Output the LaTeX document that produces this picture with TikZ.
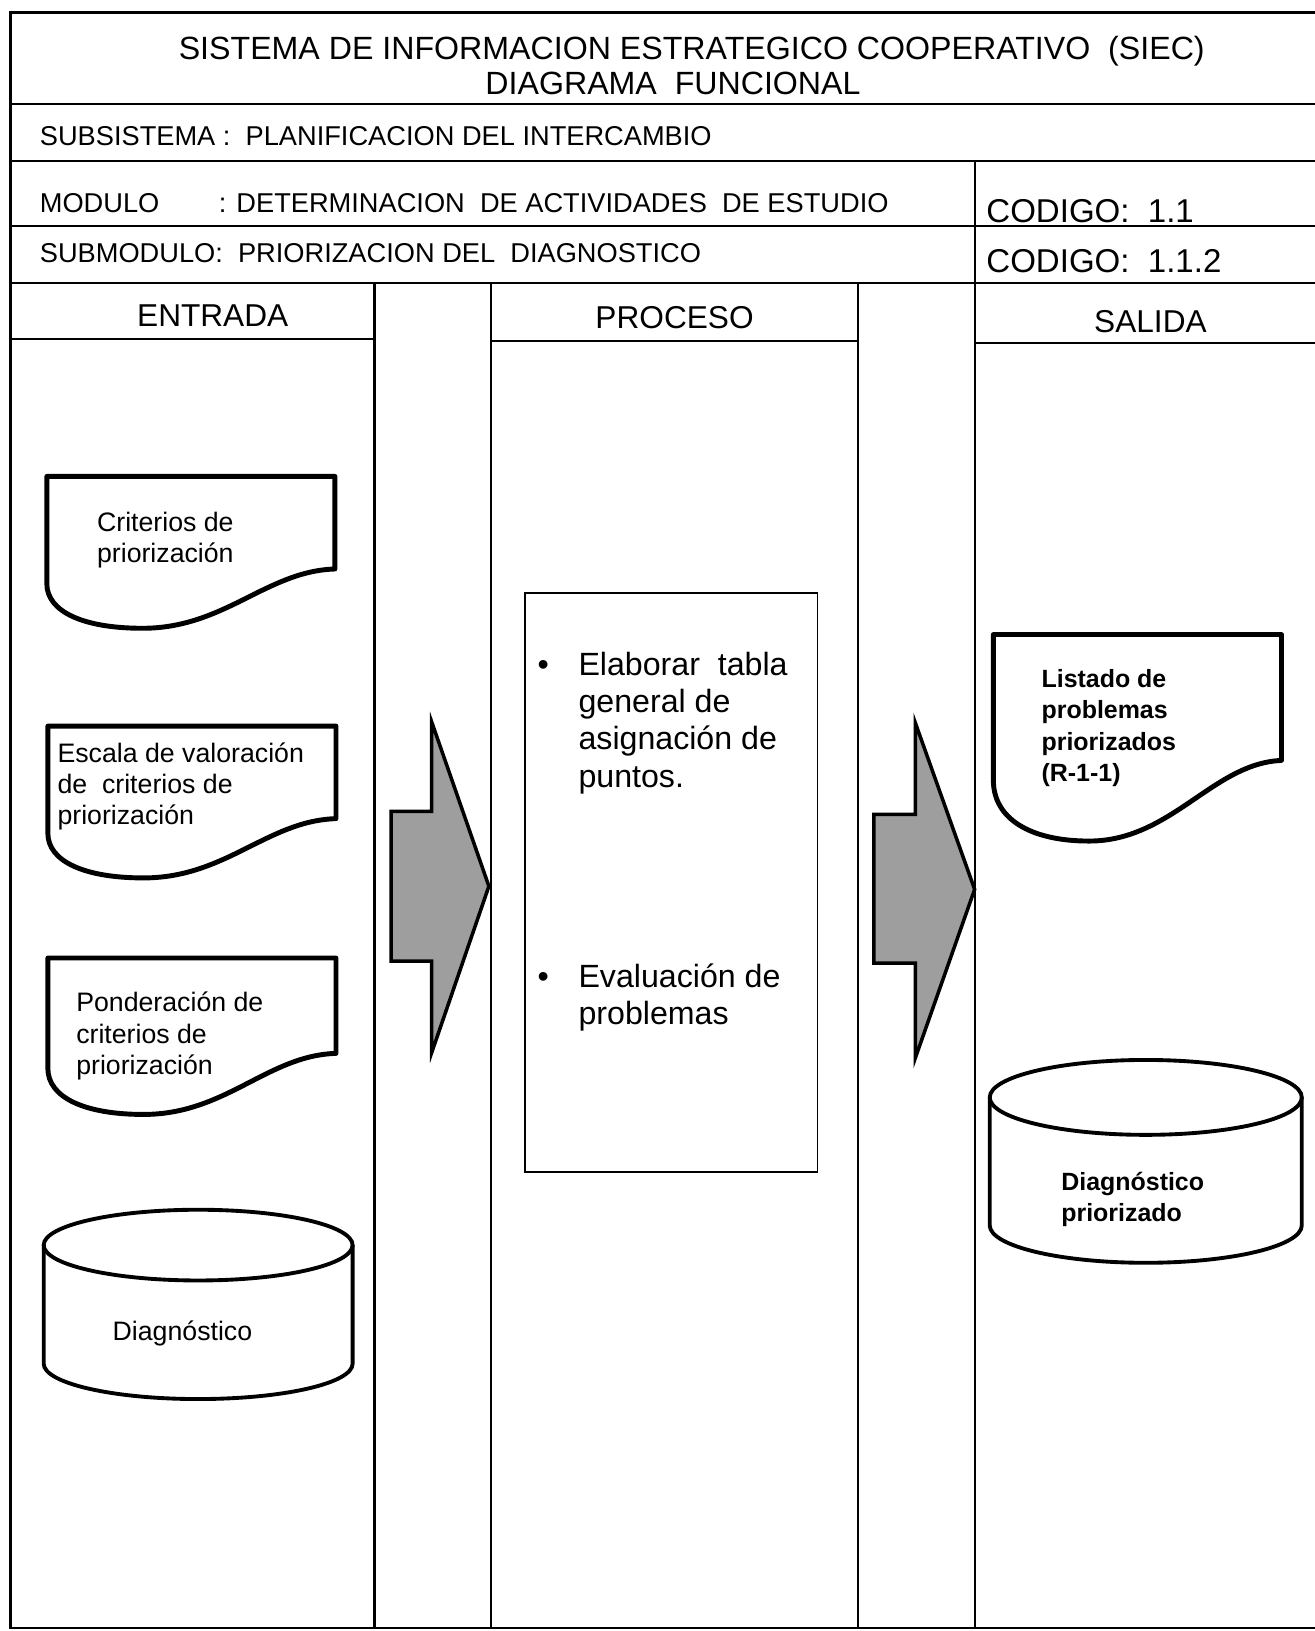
\documentclass[tikz,border=0pt]{standalone}
\usepackage{fontspec}
\setmainfont{Liberation Sans}
\usetikzlibrary{calc}

% hoja de documento: esquina superior izquierda, escala vertical
\newcommand{\hoja}[3]{%
  \draw[docline,shift={(#1,#2)},yscale=#3] (0,0) -- (277,0) -- (277,89)
    .. controls (211,91) and (171,146) .. (92,146)
    .. controls (35,146) and (0,130) .. (0,103) -- cycle;}
% cilindro: centro x, y arriba, y abajo, radio x, radio y
\newcommand{\tambor}[5]{%
  \draw[cilindro] (#1-#4,#2) -- (#1-#4,#3)
    arc[start angle=180,end angle=0,x radius=#4,y radius=#5] -- (#1+#4,#2);
  \draw[cilindro] (#1,#2) ellipse[x radius=#4,y radius=#5];}

\begin{document}
\begin{tikzpicture}[x=0.5921pt,y=-0.5921pt,
  every node/.style={inner sep=0pt},
  marco/.style={line width=1.3pt},
  docline/.style={line width=2.8pt,line join=round},
  cilindro/.style={line width=2.2pt},
  flecha/.style={draw=black,line width=2pt,fill=black!38},
  caja/.style={line width=1pt},
  tit/.style={font=\fontsize{18.3}{22}\selectfont},
  fila/.style={font=\fontsize{15.5}{18}\selectfont},
  cod/.style={font=\fontsize{18.8}{22}\selectfont},
  cab/.style={font=\fontsize{18}{22}\selectfont},
  txt/.style={font=\fontsize{15.2}{17.8}\selectfont,align=left},
  txtb/.style={font=\bfseries\fontsize{14.2}{17.8}\selectfont,align=left},
  proc/.style={font=\fontsize{18.3}{21.3}\selectfont}]
\useasboundingbox (0,0) rectangle (1264,1568);

% marco y filas
\draw[marco] (1264,12) -- (10,12) -- (10,1565) -- (1264,1565);
\foreach \y in {100,155,217,272} \draw[marco] (10,\y) -- (1264,\y);
\draw[marco] (937,155) -- (937,1565);
\foreach \x in {360,472,825} \draw[marco] (\x,272) -- (\x,1565);
\draw[marco] (10,326) -- (360,326);
\draw[marco] (472,328) -- (825,328);
\draw[marco] (937,330) -- (1264,330);

% encabezado
\node[tit,anchor=base] (tit1) at (665,57) {SISTEMA DE INFORMACION ESTRATEGICO COOPERATIVO\ \ (SIEC)};
\node[tit,anchor=base] (tit2) at (647,91) {DIAGRAMA\ \ FUNCIONAL};
\node[fila,anchor=base west] (subsis) at (38,140) {SUBSISTEMA\ : \ PLANIFICACION DEL INTERCAMBIO};
\node[fila,anchor=base west] (mod) at (38,204) {MODULO};
\node[fila,anchor=base west] (modtxt) at (210,204) {: DETERMINACION\ \ DE ACTIVIDADES\ \ DE ESTUDIO};
\node[fila,anchor=base west] (submod) at (38,252) {SUBMODULO:\ \ PRIORIZACION DEL\ \ DIAGNOSTICO};
\node[cod,anchor=base west] (cod1) at (948,214) {CODIGO:\ \ 1.1};
\node[cod,anchor=base west] (cod2) at (948,262) {CODIGO:\ \ 1.1.2};
\node[cab,anchor=base] (entrada) at (204.5,314) {ENTRADA};
\node[cab,anchor=base] (proceso) at (648.5,316) {PROCESO};
\node[cab,anchor=base] (salida) at (1106,320) {SALIDA};

% entrada
\hoja{45}{458}{1}
\hoja{46}{698}{1}
\hoja{46}{921}{1.03}
\tambor{190.5}{1197}{1311}{148.5}{34}
\node[txt,anchor=west] (crit) at (93,519) {Criterios de\\priorización};
\node[txt,anchor=west] (escala) at (55,756) {Escala de valoración\\de\ \ criterios de\\priorización};
\node[txt,anchor=west] (pond) at (73,996) {Ponderación de\\criterios de\\priorización};
\node[txt,anchor=base west] (diag) at (108,1289) {Diagnóstico};

% flechas
\draw[flecha] (376,780) -- (415,780) -- (415,694) -- (470,852) -- (415,1012) -- (415,924) -- (376,924) -- cycle;
\draw[flecha] (840,783) -- (880,783) -- (880,695) -- (937,855) -- (880,1017) -- (880,926) -- (840,926) -- cycle;

% proceso
\draw[caja] (505,570) rectangle (786,1127);
\node[proc,anchor=base west] (elab) at (516.5,649) {\begin{tabular}[t]{@{}l@{\hspace{16.9pt}}l@{}}
  \textbullet & Elaborar\ \ tabla\\ & general de\\ & asignación de\\ & puntos.\end{tabular}};
\node[proc,anchor=base west] (eval) at (516.5,949) {\begin{tabular}[t]{@{}l@{\hspace{16.9pt}}l@{}}
  \textbullet & Evaluación de\\ & problemas\end{tabular}};

% salida
\hoja{955}{610}{1.36}
\tambor{1101.5}{1055}{1178}{150}{36}
\node[txtb,anchor=west] (listado) at (1001,700) {Listado de\\problemas\\priorizados\\(R-1-1)};
\node[txtb,anchor=west] (diagpri) at (1020,1153) {Diagnóstico\\priorizado};
\end{tikzpicture}
\end{document}
